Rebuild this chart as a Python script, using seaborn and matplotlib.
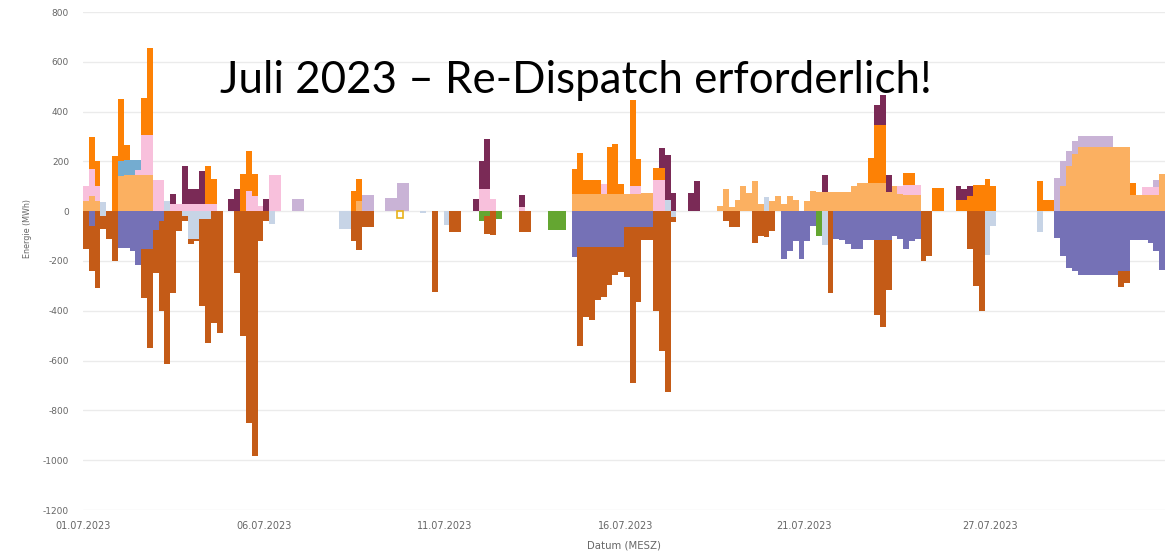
import numpy as np
import pandas as pd
import matplotlib
matplotlib.use("Agg")
import matplotlib.pyplot as plt
import seaborn as sns

# Re-Dispatch energy in MWh, July 2023, in 4-hour blocks
# (block 0 = 01.07.2023 00:00, 186 blocks in the month).
# Each series is a list of (block, MWh); blocks not listed are 0.
N_BLOCKS = 186

# positive side, listed bottom -> top
sand = [(0, 40), (1, 60), (2, 40), (6, 140), (7, 145), (8, 145), (9, 145), (10, 145), (11, 145),
        (47, 40), (84, 68), (85, 68), (86, 68), (87, 68), (88, 68), (89, 68), (90, 68), (91, 68),
        (92, 68), (93, 70), (94, 70), (95, 70), (96, 72), (97, 72), (109, 20), (110, 90), (111, 16),
        (112, 45), (113, 100), (114, 72), (115, 120), (116, 30), (118, 40), (119, 60), (120, 30),
        (121, 60), (122, 44), (124, 40), (125, 80), (126, 76), (127, 76), (128, 76), (129, 76),
        (130, 76), (131, 76), (132, 100), (133, 112), (134, 112), (135, 112), (136, 112), (137, 112),
        (138, 76), (139, 100), (140, 70), (141, 64), (142, 64), (143, 64), (168, 100), (169, 180),
        (170, 230), (171, 257), (172, 257), (173, 257), (174, 257), (175, 257), (176, 257),
        (177, 257), (178, 257), (179, 257), (180, 64), (181, 64), (182, 64), (183, 64), (184, 64),
        (185, 150)]
pink = [(0, 60), (1, 110), (2, 60), (9, 20), (10, 160), (11, 160), (12, 125), (13, 125), (15, 30),
        (16, 30), (17, 30), (18, 30), (19, 30), (20, 30), (21, 30), (22, 30), (28, 80), (29, 60),
        (30, 20), (32, 145), (33, 145), (68, 90), (69, 90), (70, 50), (75, 15), (89, 40), (94, 30),
        (95, 30), (98, 125), (99, 125), (140, 30), (141, 40), (142, 40), (143, 40), (182, 33),
        (183, 33), (184, 33)]
lilac = [(36, 48), (37, 48), (48, 64), (49, 64), (52, 55), (53, 55), (54, 112), (55, 112),
         (167, 133), (168, 100), (169, 60), (170, 50), (171, 44), (172, 44), (173, 44), (174, 44),
         (175, 44), (176, 44), (184, 30)]
grey_pos = [(3, 35), (14, 40), (100, 45), (117, 56)]
steel = [(6, 60), (7, 60), (8, 60), (9, 40)]
orange = [(1, 130), (2, 100), (5, 220), (6, 250), (7, 60), (10, 150), (11, 350), (21, 150),
          (22, 100), (27, 150), (28, 160), (29, 90), (46, 80), (47, 90), (84, 100), (85, 165),
          (86, 57), (87, 57), (88, 57), (90, 190), (91, 200), (92, 40), (94, 345), (95, 110),
          (98, 50), (99, 50), (135, 100), (136, 233), (137, 233), (141, 48), (142, 48), (146, 92),
          (147, 92), (150, 45), (151, 45), (152, 60), (153, 104), (154, 104), (155, 130),
          (156, 100), (164, 120), (165, 44), (166, 44), (180, 50)]
plum = [(15, 40), (17, 150), (18, 60), (19, 60), (20, 130), (25, 50), (26, 90), (31, 50), (67, 50),
        (68, 110), (69, 200), (75, 50), (99, 80), (100, 180), (101, 72), (104, 72), (105, 120),
        (127, 70), (136, 80), (137, 120), (138, 70), (150, 55), (151, 45), (152, 40)]

# negative side, listed from zero downwards
slate = [(1, -60), (6, -149), (7, -149), (8, -160), (9, -217), (10, -150), (11, -150), (12, -76),
         (13, -40), (84, -185), (85, -145), (86, -145), (87, -145), (88, -145), (89, -145),
         (90, -145), (91, -145), (92, -145), (93, -64), (94, -64), (95, -64), (96, -64), (97, -64),
         (120, -190), (121, -160), (122, -120), (123, -190), (124, -120), (125, -60), (129, -110),
         (130, -116), (131, -130), (132, -150), (133, -150), (134, -116), (135, -116), (136, -116),
         (137, -116), (138, -116), (139, -100), (140, -110), (141, -150), (142, -120), (143, -110),
         (167, -108), (168, -180), (169, -229), (170, -240), (171, -257), (172, -257), (173, -257),
         (174, -257), (175, -257), (176, -257), (177, -257), (178, -240), (179, -240), (180, -116),
         (181, -116), (182, -116), (183, -129), (184, -160), (185, -237)]
grey_neg = [(3, -20), (17, -20), (18, -110), (19, -110), (20, -30), (21, -30), (32, -50), (44, -70),
            (45, -70), (58, -8), (62, -55), (101, -23), (127, -137), (155, -177), (156, -60),
            (164, -84)]
green = [(68, -40), (69, -20), (71, -30), (80, -76), (81, -76), (82, -76), (126, -100)]
brown = [(0, -150), (1, -180), (2, -310), (3, -50), (4, -110), (5, -200), (10, -200), (11, -400),
         (12, -174), (13, -360), (14, -612), (15, -330), (16, -80), (17, -20), (18, -20), (19, -10),
         (20, -350), (21, -500), (22, -450), (23, -490), (26, -250), (27, -500), (28, -850),
         (29, -985), (30, -120), (31, -40), (46, -120), (47, -157), (48, -64), (49, -64), (60, -323),
         (63, -84), (64, -84), (69, -70), (70, -95), (75, -85), (76, -85), (85, -395), (86, -280),
         (87, -290), (88, -210), (89, -200), (90, -150), (91, -110), (92, -100), (93, -200),
         (94, -626), (95, -300), (96, -50), (97, -50), (98, -400), (99, -560), (100, -727),
         (101, -20), (110, -40), (111, -64), (112, -64), (115, -129), (116, -100), (117, -104),
         (118, -80), (128, -330), (136, -300), (137, -350), (138, -200), (144, -200), (145, -180),
         (152, -150), (153, -300), (154, -400), (178, -65), (179, -50)]
gold = [(54, -28)]

tick_labels = ["01.07.2023", "06.07.2023", "11.07.2023", "16.07.2023", "21.07.2023", "27.07.2023"]
tick_blocks = [0, 31.1, 62.2, 93.2, 123.9, 155.9]

colors = {
    "sand": "#fbb061", "pink": "#f8c0dc", "lilac": "#c9b3d6", "grey_pos": "#c7d4e6",
    "steel": "#74acd0", "orange": "#fd8105", "plum": "#7a2a56",
    "slate": "#7571b6", "grey_neg": "#c7d4e6", "green": "#64a631", "brown": "#c45b17",
}


def long_table(series):
    frames = []
    for name, pairs in series.items():
        vals = np.zeros(N_BLOCKS)
        for k, v in pairs:
            vals[k] = v
        frames.append(pd.DataFrame({"block": np.arange(N_BLOCKS) + 0.5, "mwh": vals, "serie": name}))
    return pd.concat(frames, ignore_index=True)


pos = long_table({"sand": sand, "pink": pink, "lilac": lilac, "grey_pos": grey_pos,
                  "steel": steel, "orange": orange, "plum": plum})
neg = long_table({"slate": slate, "grey_neg": grey_neg, "green": green, "brown": brown})

sns.set_style("white")
plt.rcParams["font.family"] = ["DejaVu Sans"]
plt.rcParams["axes.unicode_minus"] = False

fig = plt.figure(figsize=(11.76, 5.52), dpi=100)
ax = fig.add_axes([83 / 1176, 1 - 510 / 552, 1082 / 1176, 498 / 552])

# seaborn stacks the last hue level at the bottom
for df, order in [(pos, ["plum", "orange", "steel", "grey_pos", "lilac", "pink", "sand"]),
                  (neg, ["brown", "green", "grey_neg", "slate"])]:
    sns.histplot(data=df, x="block", weights="mwh", hue="serie", hue_order=order,
                 palette=colors, binwidth=1, binrange=(0, N_BLOCKS), multiple="stack",
                 element="step", fill=True, alpha=1, linewidth=0, legend=False, ax=ax)

# tiny hollow bar
gdf = pd.DataFrame({"block": [k + 0.5 for k, _ in gold], "mwh": [v for _, v in gold]})
sns.histplot(data=gdf, x="block", weights="mwh", binwidth=1,
             binrange=(gold[0][0], gold[0][0] + 1), element="bars", fill=False,
             color="#e8b21a", linewidth=1.2, ax=ax)

ax.set_xlim(0, N_BLOCKS)
ax.set_ylim(-1200, 800)
ax.set_yticks(np.arange(-1200, 801, 200))
ax.set_xticks(tick_blocks)
ax.set_xticklabels(tick_labels)
ax.yaxis.grid(True, color="#ebebeb", linewidth=1)
ax.xaxis.grid(False)
ax.set_axisbelow(True)
for sp in ax.spines.values():
    sp.set_visible(False)
ax.tick_params(axis="y", length=0, pad=10, labelsize=6.5, labelcolor="#666666")
ax.tick_params(axis="x", length=0, pad=8, labelsize=7, labelcolor="#666666")
ax.set_xlabel("")
ax.set_ylabel("")

fig.text(624 / 1176, 1 - 545 / 552, "Datum (MESZ)", ha="center", va="center",
         fontsize=7.3, color="#666666")
fig.text(28 / 1176, 1 - 228 / 552, "Energie (MWh)", ha="center", va="center",
         rotation=90, fontsize=5.8, color="#666666")
fig.text(220 / 1176, 1 - 93 / 552, "Juli 2023 \u2013 Re-Dispatch erforderlich!",
         ha="left", va="baseline", fontsize=31.6, color="black", family=["Lato", "DejaVu Sans"])

fig.savefig("out.png", dpi=100)
